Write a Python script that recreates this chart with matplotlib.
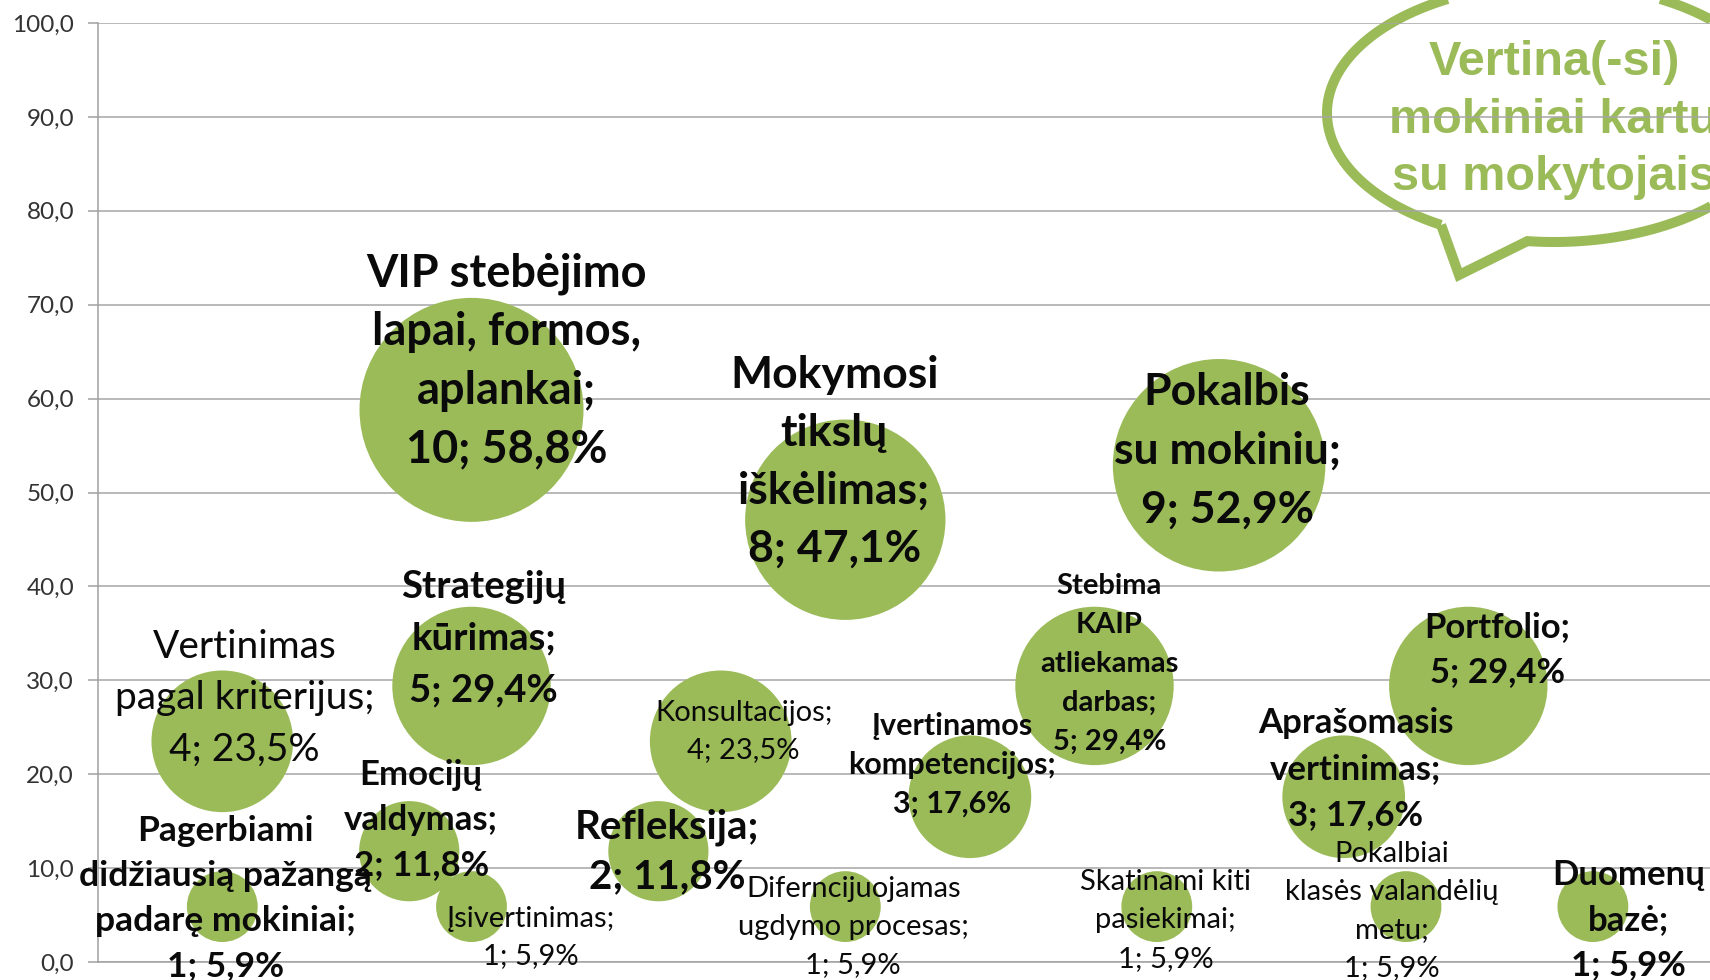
import matplotlib
matplotlib.use("Agg")
import matplotlib.pyplot as plt
import numpy as np
from matplotlib.path import Path
from matplotlib.patches import PathPatch

W, H, DPI = 1710, 980, 100
GREEN = "#9BBB59"
FONT = ["Lato", "DejaVu Sans"]

# ---------------------------------------------------------------------------
# Data: method name (wrapped), x slot, count of answers, share in %
# ---------------------------------------------------------------------------
names = [
    "VIP stebėjimo\nlapai, formos,\naplankai;",
    "Mokymosi\ntikslų\niškėlimas;",
    "Pokalbis\nsu mokiniu;",
    "Vertinimas\npagal kriterijus;",
    "Strategijų\nkūrimas;",
    "Konsultacijos;",
    "Stebima\nKAIP\natliekamas\ndarbas;",
    "Portfolio;",
    "Įvertinamos\nkompetencijos;",
    "Aprašomasis\nvertinimas;",
    "Emocijų\nvaldymas;",
    "Refleksija;",
    "Pagerbiami\ndidžiausią pažangą\npadarę mokiniai;",
    "Įsivertinimas;",
    "Diferncijuojamas\nugdymo procesas;",
    "Skatinami kiti\npasiekimai;",
    "Pokalbiai\nklasės valandėlių\nmetu;",
    "Duomenų\nbazė;",
]
x_slot = [6, 12, 18, 2, 6, 10, 16, 22, 14, 20, 5, 9, 2, 6, 12, 17, 21, 24]
counts = [10, 8, 9, 4, 5, 4, 5, 5, 3, 3, 2, 2, 1, 1, 1, 1, 1, 1]
shares = [58.8, 47.1, 52.9, 23.5, 29.4, 23.5, 29.4, 29.4, 17.6, 17.6,
          11.8, 11.8, 5.9, 5.9, 5.9, 5.9, 5.9, 5.9]

y_ticks = np.arange(0, 101, 10)

# Label layout: (font size, weight, dx px, first baseline dy px, line step px)
label_style = [
    (32.5, "bold",  35, -123, 58.5),
    (32, "bold",   -11, -132, 58.0),
    (32, "bold",     8,  -60, 58.5),
    (28, "normal",  22,  -83, 51.0),
    (27.5, "bold",  12,  -88, 52.0),
    (21, "normal",  23,  -20, 37.0),
    (21, "bold",    15,  -92, 39.0),
    (25, "bold",    29,  -49, 45.0),
    (22, "bold",   -18,  -62, 39.0),
    (25, "bold",    12,  -64, 46.0),
    (25, "bold",    12,  -66, 45.0),
    (29, "bold",     9,  -13, 50.0),
    (25.5, "bold",   3,  -66, 45.0),
    (21, "normal",  59,   20, 37.0),
    (21, "normal",   8,  -10, 38.0),
    (21, "normal",   9,  -17, 38.5),
    (21, "normal", -14,  -45, 38.0),
    (25, "bold",    36,  -22, 45.0),
]

# ---------------------------------------------------------------------------
# Figure / axes geometry (pixels)
# ---------------------------------------------------------------------------
fig = plt.figure(figsize=(W / DPI, H / DPI), dpi=DPI)
ax_left, ax_top, ax_bottom = 97.7, 23.0, 962.0
ax = fig.add_axes([ax_left / W, 1 - ax_bottom / H,
                   1 - ax_left / W, (ax_bottom - ax_top) / H])
slot_px = 62.3
ax.set_xlim(0, (W - ax_left) / slot_px)
ax.set_ylim(0, 100)

# bubbles: area proportional to the count
px2pt = 72.0 / DPI
r10 = 112.0  # radius (px) of the 10-answer bubble
s_unit = (2 * r10 * px2pt) ** 2 / 10
ax.scatter(x_slot, shares, s=np.array(counts) * s_unit, color=GREEN,
           linewidths=0, zorder=2)

# data labels, drawn line by line
for name, xs, cnt, sh, st in zip(names, x_slot, counts, shares, label_style):
    size, weight, dx, dy0, step = st
    lines = name.split("\n") + [f"{cnt}; {sh:.1f}%".replace(".", ",")]
    for i, line in enumerate(lines):
        ax.annotate(line, (xs, sh), xytext=(dx * px2pt, -(dy0 + i * step) * px2pt),
                    textcoords="offset points", ha="center", va="baseline",
                    fontsize=size, fontweight=weight, family=FONT,
                    color="#0a0a0a", zorder=4, annotation_clip=False)

# axes cosmetics
ax.set_yticks(y_ticks)
ax.set_yticklabels([f"{v:.1f}".replace(".", ",") for v in y_ticks],
                   fontsize=17.5, family=FONT, color="#333333")
ax.set_xticks([])
ax.tick_params(axis="y", length=7, width=1.1, color="#A0A0A0", pad=10)
ax.grid(axis="y", color="#A6A6A6", linewidth=1.1)
ax.set_axisbelow(True)
for side in ("top", "right"):
    ax.spines[side].set_visible(False)
for side in ("left", "bottom"):
    ax.spines[side].set_color("#A0A0A0")
    ax.spines[side].set_linewidth(1.1)

# ---------------------------------------------------------------------------
# Speech-bubble callout in the top right corner (pixel coordinates)
# ---------------------------------------------------------------------------
cx, cy, ea, eb = 1554.0, 113.0, 227.0, 129.0
tail_a = (1443.0, 223.0)
tail_tip = (1459.0, 275.0)
tail_b = (1527.0, 243.0)


def ell_angle(p):
    return np.arctan2((p[1] - cy) / eb, (p[0] - cx) / ea)


t1 = ell_angle(tail_a)
t2 = ell_angle(tail_b) + 2 * np.pi
ts = np.linspace(t1, t2, 300)
px = np.r_[cx + ea * np.cos(ts), tail_tip[0], cx + ea * np.cos(t1)]
py = np.r_[cy + eb * np.sin(ts), tail_tip[1], cy + eb * np.sin(t1)]
verts = np.column_stack([px / W, 1 - py / H])
codes = [Path.MOVETO] + [Path.LINETO] * (len(verts) - 2) + [Path.CLOSEPOLY]
callout = PathPatch(Path(verts, codes), fill=False, edgecolor=GREEN, lw=7.2,
                    joinstyle="miter", transform=fig.transFigure,
                    clip_on=False, zorder=0.3)
ax.add_patch(callout)

callout_lines = ["Vertina(-si)", "mokiniai kartu", "su mokytojais"]
callout_base = [75, 133, 190]
for line, yb in zip(callout_lines, callout_base):
    ax.text(cx / W, 1 - yb / H, line, transform=fig.transFigure,
            ha="center", va="baseline", fontsize=35, fontweight="bold",
            family=["Liberation Sans", "DejaVu Sans"], color=GREEN,
            zorder=0.3, clip_on=False)

fig.savefig("out.png", dpi=DPI)
